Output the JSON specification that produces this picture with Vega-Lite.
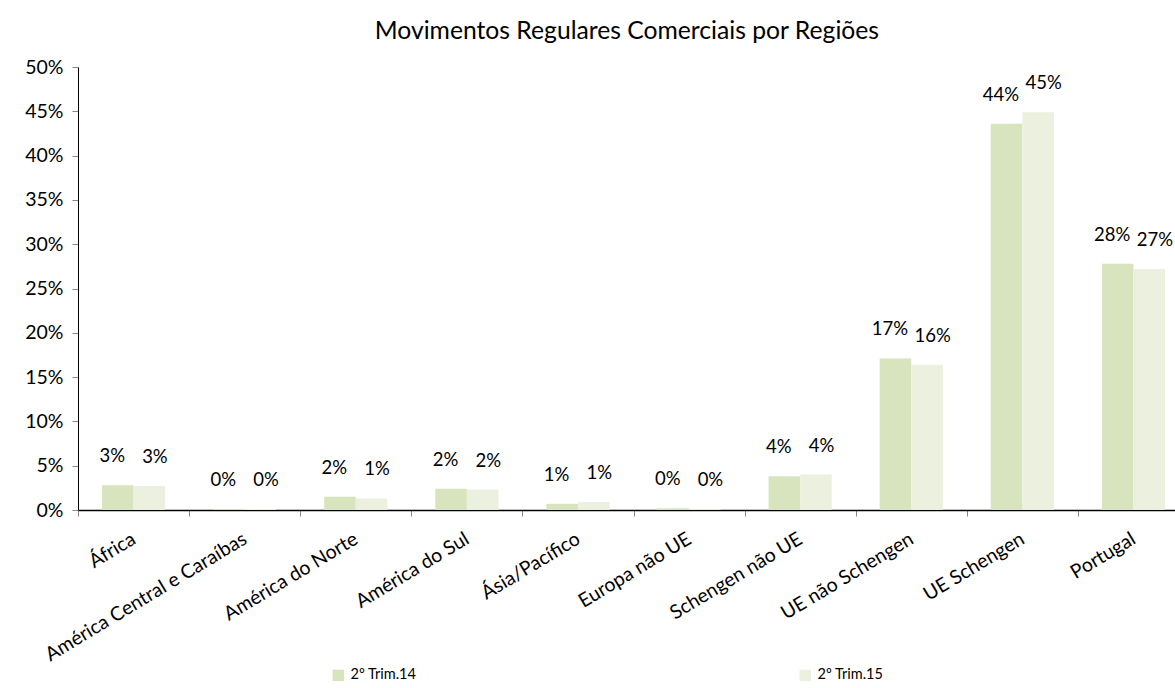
{
  "$schema": "https://vega.github.io/schema/vega-lite/v6.json",
  "autosize": {"type": "none"},
  "width": 1111,
  "height": 443,
  "padding": {"left": 78, "top": 67, "right": 0, "bottom": 178},
  "background": "white",
  "title": {
    "text": "Movimentos Regulares Comerciais por Regiões",
    "font": "Lato",
    "fontSize": 24.7,
    "fontWeight": "normal",
    "color": "black",
    "anchor": "start",
    "dx": 350,
    "offset": 13
  },
  "data": {
    "values": [
      {"regiao": "África", "periodo": "2º Trim.14", "valor": 0.028},
      {"regiao": "África", "periodo": "2º Trim.15", "valor": 0.027},
      {"regiao": "América Central e Caraíbas", "periodo": "2º Trim.14", "valor": 0.001},
      {"regiao": "América Central e Caraíbas", "periodo": "2º Trim.15", "valor": 0.001},
      {"regiao": "América do Norte", "periodo": "2º Trim.14", "valor": 0.015},
      {"regiao": "América do Norte", "periodo": "2º Trim.15", "valor": 0.013},
      {"regiao": "América do Sul", "periodo": "2º Trim.14", "valor": 0.024},
      {"regiao": "América do Sul", "periodo": "2º Trim.15", "valor": 0.023},
      {"regiao": "Ásia/Pacífico", "periodo": "2º Trim.14", "valor": 0.007},
      {"regiao": "Ásia/Pacífico", "periodo": "2º Trim.15", "valor": 0.009},
      {"regiao": "Europa não UE", "periodo": "2º Trim.14", "valor": 0.002},
      {"regiao": "Europa não UE", "periodo": "2º Trim.15", "valor": 0.001},
      {"regiao": "Schengen não UE", "periodo": "2º Trim.14", "valor": 0.038},
      {"regiao": "Schengen não UE", "periodo": "2º Trim.15", "valor": 0.040},
      {"regiao": "UE não Schengen", "periodo": "2º Trim.14", "valor": 0.171},
      {"regiao": "UE não Schengen", "periodo": "2º Trim.15", "valor": 0.164},
      {"regiao": "UE Schengen", "periodo": "2º Trim.14", "valor": 0.436},
      {"regiao": "UE Schengen", "periodo": "2º Trim.15", "valor": 0.449},
      {"regiao": "Portugal", "periodo": "2º Trim.14", "valor": 0.278},
      {"regiao": "Portugal", "periodo": "2º Trim.15", "valor": 0.272}
    ]
  },
  "encoding": {
    "x": {
      "field": "regiao",
      "type": "nominal",
      "sort": null,
      "title": null,
      "scale": {"paddingInner": 0, "paddingOuter": 0},
      "axis": {
        "tickBand": "extent",
        "labelAngle": -31,
        "labelAlign": "right",
        "labelBaseline": "middle",
        "labelPadding": 21,
        "labelFont": "Lato",
        "labelFontSize": 19.5,
        "labelColor": "black",
        "labelLimit": 400,
        "domainColor": "black",
        "domainWidth": 1.5,
        "tickColor": "#888888",
        "tickSize": 6,
        "grid": false
      }
    },
    "y": {
      "field": "valor",
      "type": "quantitative",
      "title": null,
      "scale": {"domain": [0, 0.5]},
      "axis": {
        "values": [0, 0.05, 0.1, 0.15, 0.2, 0.25, 0.3, 0.35, 0.4, 0.45, 0.5],
        "format": ".0%",
        "grid": false,
        "labelFont": "Lato",
        "labelFontSize": 19.5,
        "labelColor": "black",
        "labelPadding": 9,
        "domainColor": "black",
        "tickColor": "#888888",
        "tickSize": 6
      }
    }
  },
  "layer": [
    {
      "mark": {"type": "bar"},
      "encoding": {
        "xOffset": {
          "field": "periodo",
          "type": "nominal",
          "scale": {"paddingInner": 0, "paddingOuter": 0.76}
        },
        "color": {
          "field": "periodo",
          "type": "nominal",
          "title": null,
          "scale": {"domain": ["2º Trim.14", "2º Trim.15"], "range": ["#D7E4BD", "#EBF1DE"]},
          "legend": {
            "orient": "none",
            "legendX": 253,
            "legendY": 601,
            "direction": "horizontal",
            "columns": 2,
            "columnPadding": 381,
            "symbolType": "square",
            "symbolSize": 130,
            "symbolStrokeWidth": 0,
            "labelFont": "Lato",
            "labelFontSize": 14.5,
            "labelColor": "black",
            "labelOffset": 5
          }
        }
      }
    },
    {
      "mark": {"type": "text", "font": "Lato", "fontSize": 18.5, "color": "black", "dy": -29, "baseline": "middle"},
      "encoding": {
        "xOffset": {
          "field": "periodo",
          "type": "nominal",
          "scale": {"paddingInner": 0, "paddingOuter": 0.8}
        },
        "text": {"field": "valor", "type": "quantitative", "format": ".0%"}
      }
    }
  ],
  "resolve": {"scale": {"xOffset": "independent"}},
  "config": {"view": {"stroke": null}}
}
